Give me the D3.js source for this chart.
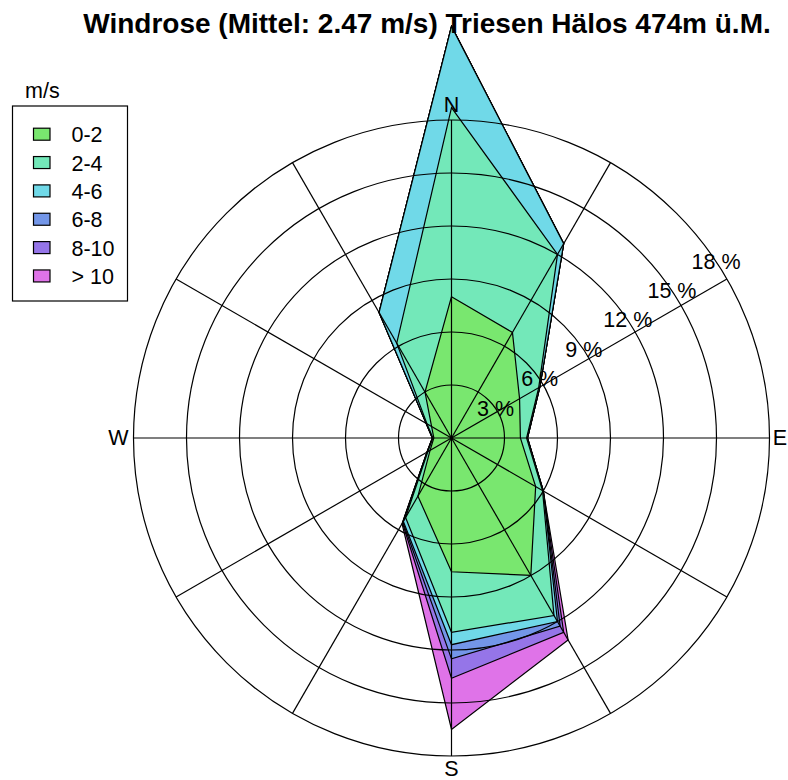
<!DOCTYPE html>
<html>
<head>
<meta charset="utf-8">
<script src="https://cdn.jsdelivr.net/npm/d3@7"></script>
<style>
  html, body { margin: 0; padding: 0; background: #fff; }
  svg { display: block; font-family: "Liberation Sans", Arial, Helvetica, sans-serif; }
</style>
</head>
<body>
<svg id="chart" width="788" height="780"></svg>
<script>
// Wind directions (degrees, clockwise from north)
const directions = [0, 30, 60, 90, 120, 150, 180, 210, 240, 270, 300, 330];

// Frequency (%) of each speed class per direction
const class0to2   = [8.0, 6.9, 4.45, 3.9, 5.5, 8.98, 7.57, 3.8, 1.4, 1.0, 1.3, 3.0];
const class2to4   = [10.7, 5.1, 1.25, 0.35, 0.45, 2.62, 3.43, 1.4, 0.15, 0.05, 0.3, 3.2];
const class4to6   = [4.6, 0.7, 0.07, 0.05, 0.05, 0.4, 0.7, 0.25, 0.05, 0.03, 0.05, 2.0];
const class6to8   = [0, 0, 0, 0, 0, 0.3, 0.8, 0.05, 0, 0, 0, 0];
const class8to10  = [0, 0, 0, 0, 0, 0.4, 1.1, 0.05, 0, 0, 0, 0];
const classOver10 = [0, 0, 0, 0, 0, 0.5, 2.9, 0.05, 0, 0, 0, 0];

const speedClasses = ["0-2", "2-4", "4-6", "6-8", "8-10", "> 10"];
const ringTicks = [3, 6, 9, 12, 15, 18];
const compassLabels = ["N", "E", "S", "W"];
const compassAngles = [0, 90, 180, 270];
const spokeAngles = [0, 30, 60, 90, 120, 150, 180, 210, 240, 270, 300, 330];
const titleText = "Windrose (Mittel: 2.47 m/s) Triesen Hälos 474m ü.M.";
const legendTitle = "m/s";

const palette = ["#79e76f", "#73e8b9", "#70d9e8", "#7396e8", "#9575e8", "#df73e8"];

const svg = d3.select("#chart");
const W = 788, H = 780;
const cx = 451.5, cy = 438;
const R = 318;
const labelSize = 21.5;

const r = d3.scaleLinear().domain([0, 18]).range([0, R]);
const rad = d => d * Math.PI / 180;

// Build a table of rows keyed by speed class and stack them
const classSeries = [class0to2, class2to4, class4to6, class6to8, class8to10, classOver10];
const table = directions.map((dir, i) => {
  const row = { dir };
  speedClasses.forEach((k, j) => { row[k] = classSeries[j][i]; });
  return row;
});
const stacked = d3.stack().keys(speedClasses)(table);

const g = svg.append("g").attr("transform", `translate(${cx},${cy})`);

const radial = d3.lineRadial()
  .angle(d => rad(d.data.dir))
  .radius(d => r(d[1]))
  .curve(d3.curveLinearClosed);

// Outer cumulative polygons first, inner ones on top
const layers = stacked.slice().reverse();
g.selectAll("path.layer")
  .data(layers)
  .join("path")
  .attr("class", "layer")
  .attr("d", s => radial(s))
  .attr("fill", s => palette[s.index])
  .attr("stroke", "#000")
  .attr("stroke-width", 1.2)
  .attr("stroke-linejoin", "miter");

// Grid rings
g.selectAll("circle.ring")
  .data(ringTicks)
  .join("circle")
  .attr("class", "ring")
  .attr("r", d => r(d))
  .attr("fill", "none")
  .attr("stroke", "#000")
  .attr("stroke-width", 1.2);

// Spokes
g.selectAll("line.spoke")
  .data(spokeAngles)
  .join("line")
  .attr("class", "spoke")
  .attr("x1", 0).attr("y1", 0)
  .attr("x2", d => R * Math.sin(rad(d)))
  .attr("y2", d => -R * Math.cos(rad(d)))
  .attr("stroke", "#000")
  .attr("stroke-width", 1.2);

// Ring labels
const labelBearing = 56.3;
g.selectAll("text.ringlab")
  .data(ringTicks)
  .join("text")
  .attr("class", "ringlab")
  .attr("x", d => r(d) * Math.sin(rad(labelBearing)))
  .attr("y", d => -r(d) * Math.cos(rad(labelBearing)))
  .attr("text-anchor", "middle")
  .attr("dominant-baseline", "central")
  .attr("font-size", labelSize)
  .text(d => d + " %");

// Compass labels (kept inside the drawing area)
g.selectAll("text.compass")
  .data(compassLabels)
  .join("text")
  .attr("class", "compass")
  .attr("x", (d, i) => Math.min((R + 15) * Math.sin(rad(compassAngles[i])), W - cx - 8))
  .attr("y", (d, i) => Math.min(-(R + 15) * Math.cos(rad(compassAngles[i])), H - cy - 11))
  .attr("text-anchor", "middle")
  .attr("dominant-baseline", "central")
  .attr("font-size", labelSize)
  .text(d => d);

// Title
svg.append("text")
  .attr("x", 427)
  .attr("y", 33)
  .attr("text-anchor", "middle")
  .attr("font-weight", "bold")
  .attr("font-size", 28)
  .text(titleText);

// Legend
const legend = svg.append("g");
legend.append("text")
  .attr("x", 25).attr("y", 98)
  .attr("font-size", labelSize)
  .text(legendTitle);
legend.append("rect")
  .attr("x", 12.5).attr("y", 106)
  .attr("width", 115).attr("height", 195)
  .attr("fill", "none").attr("stroke", "#000").attr("stroke-width", 1.2);
const items = legend.selectAll("g.item")
  .data(speedClasses)
  .join("g")
  .attr("class", "item")
  .attr("transform", (d, i) => `translate(0,${134.2 + i * 28.35})`);
items.append("rect")
  .attr("x", 33.5).attr("y", -6)
  .attr("width", 16.5).attr("height", 12)
  .attr("fill", (d, i) => palette[i])
  .attr("stroke", "#000").attr("stroke-width", 1.2);
items.append("text")
  .attr("x", 71.5).attr("y", 1)
  .attr("dominant-baseline", "central")
  .attr("font-size", labelSize)
  .text(d => d);
</script>
</body>
</html>
